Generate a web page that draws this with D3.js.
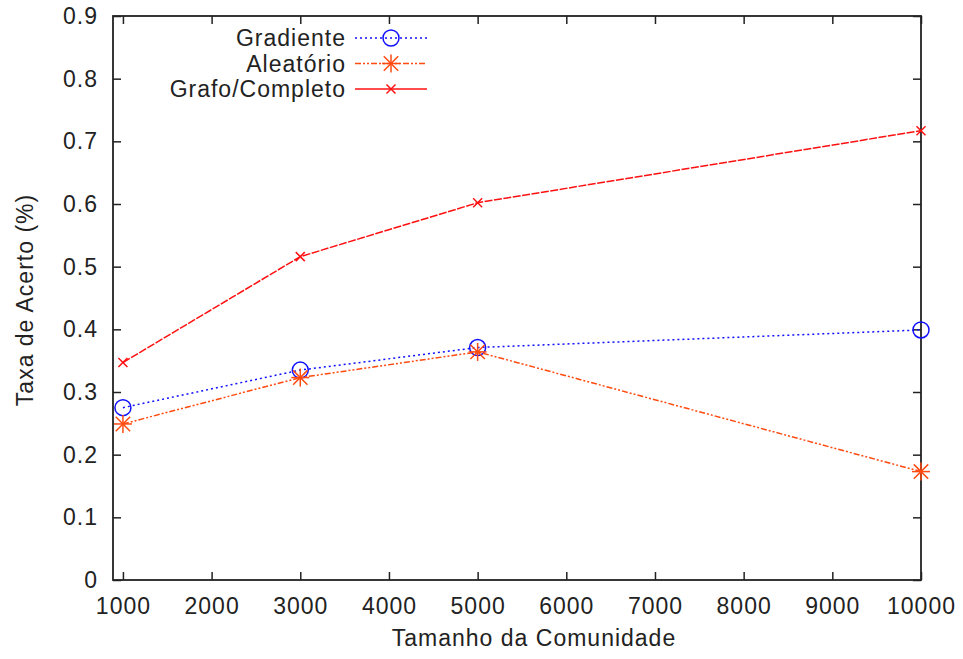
<!DOCTYPE html>
<html>
<head>
<meta charset="utf-8">
<script src="https://cdn.jsdelivr.net/npm/d3@7"></script>
<style>
  body { margin: 0; background: #fff; }
  text { font-family: "Liberation Sans", Arial, sans-serif; fill: #222; letter-spacing: 1px; }
</style>
</head>
<body>
<script>
// data
const sizes = [1000, 3000, 5000, 10000];
const gradiente = [0.275, 0.335, 0.371, 0.399];
const aleatorio = [0.249, 0.323, 0.364, 0.173];
const grafoCompleto = [0.347, 0.516, 0.602, 0.717];
const xTicks = [1000, 2000, 3000, 4000, 5000, 6000, 7000, 8000, 9000, 10000];
const yTicks = [0, 0.1, 0.2, 0.3, 0.4, 0.5, 0.6, 0.7, 0.8, 0.9];

const width = 963, height = 659;
const margin = { left: 113, right: 42, top: 16, bottom: 79 };
const fontSize = '23px';

const svg = d3.select('body').append('svg')
  .attr('width', width)
  .attr('height', height);

const x = d3.scaleLinear()
  .domain([888, 10000])
  .range([margin.left, width - margin.right]);

const y = d3.scaleLinear()
  .domain([0, 0.9])
  .range([height - margin.bottom, margin.top]);

const tickLen = 8;

// axes, ticks pointing inward, mirrored on top and right
svg.append('g')
  .attr('transform', `translate(0, ${height - margin.bottom})`)
  .call(d3.axisBottom(x).tickValues(xTicks).tickSize(-tickLen).tickPadding(18).tickFormat(d3.format('d')))
  .call(g => g.select('.domain').remove());

svg.append('g')
  .attr('transform', `translate(0, ${margin.top})`)
  .call(d3.axisTop(x).tickValues(xTicks).tickSize(-tickLen).tickFormat(''))
  .call(g => g.select('.domain').remove());

svg.append('g')
  .attr('transform', `translate(${margin.left}, 0)`)
  .call(d3.axisLeft(y).tickValues(yTicks).tickSize(-tickLen).tickPadding(15).tickFormat(d => d === 0 ? '0' : d3.format('.1f')(d)))
  .call(g => g.select('.domain').remove());

svg.append('g')
  .attr('transform', `translate(${width - margin.right}, 0)`)
  .call(d3.axisRight(y).tickValues(yTicks).tickSize(-tickLen).tickFormat(''))
  .call(g => g.select('.domain').remove());

svg.selectAll('.tick line').attr('stroke', '#222').attr('stroke-width', 1.5);
svg.selectAll('.tick text').style('font-size', fontSize).attr('fill', '#222');

svg.append('rect')
  .attr('x', margin.left)
  .attr('y', margin.top)
  .attr('width', width - margin.left - margin.right)
  .attr('height', height - margin.top - margin.bottom)
  .attr('fill', 'none')
  .attr('stroke', '#222')
  .attr('stroke-width', 1.8);

// axis titles
svg.append('text')
  .attr('x', 534)
  .attr('y', 646)
  .attr('text-anchor', 'middle')
  .style('font-size', fontSize)
  .text('Tamanho da Comunidade');

svg.append('text')
  .attr('transform', `translate(33, 300) rotate(-90)`)
  .attr('text-anchor', 'middle')
  .style('font-size', fontSize)
  .text('Taxa de Acerto (%)');

// markers
function circleMark(g, cx, cy, color) {
  g.append('circle').attr('cx', cx).attr('cy', cy).attr('r', 8)
    .attr('fill', 'none').attr('stroke', color).attr('stroke-width', 1.5);
}
function starMark(g, cx, cy, color) {
  const s = 9;
  [[-s, 0, s, 0], [0, -s, 0, s], [-s * 0.8, -s * 0.8, s * 0.8, s * 0.8], [-s * 0.8, s * 0.8, s * 0.8, -s * 0.8]]
    .forEach(p => g.append('line')
      .attr('x1', cx + p[0]).attr('y1', cy + p[1]).attr('x2', cx + p[2]).attr('y2', cy + p[3])
      .attr('stroke', color).attr('stroke-width', 1.5));
}
function crossMark(g, cx, cy, color) {
  const s = 4.5;
  [[-s, -s, s, s], [-s, s, s, -s]]
    .forEach(p => g.append('line')
      .attr('x1', cx + p[0]).attr('y1', cy + p[1]).attr('x2', cx + p[2]).attr('y2', cy + p[3])
      .attr('stroke', color).attr('stroke-width', 1.5));
}

const series = [
  { name: 'Gradiente', values: gradiente, color: '#1010ff', dash: '2,3', mark: circleMark },
  { name: 'Aleatório', values: aleatorio, color: '#ff4a10', dash: '6,2,2,2,2,2', mark: starMark },
  { name: 'Grafo/Completo', values: grafoCompleto, color: '#ff1010', dash: '8,1.5', mark: crossMark }
];

const line = d3.line()
  .x(d => x(d[0]))
  .y(d => y(d[1]));

series.forEach(s => {
  const pts = sizes.map((v, i) => [v, s.values[i]]);
  svg.append('path')
    .datum(pts)
    .attr('d', line)
    .attr('fill', 'none')
    .attr('stroke', s.color)
    .attr('stroke-width', 1.5)
    .attr('stroke-dasharray', s.dash);
  const g = svg.append('g');
  pts.forEach(p => s.mark(g, x(p[0]), y(p[1]), s.color));
});

// legend
const legend = svg.append('g');
series.forEach((s, i) => {
  const ly = 38 + i * 25.5;
  legend.append('text')
    .attr('x', 346)
    .attr('y', ly)
    .attr('dy', '0.35em')
    .attr('text-anchor', 'end')
    .style('font-size', fontSize)
    .text(s.name);
  legend.append('line')
    .attr('x1', 355).attr('x2', 427).attr('y1', ly).attr('y2', ly)
    .attr('stroke', s.color).attr('stroke-width', 1.5)
    .attr('stroke-dasharray', i === 2 ? null : s.dash);
  s.mark(legend, 391, ly, s.color);
});
</script>
</body>
</html>
